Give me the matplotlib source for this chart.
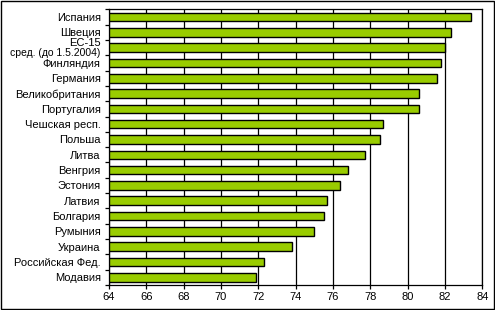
import matplotlib
matplotlib.use('Agg')
import matplotlib.pyplot as plt
import matplotlib.transforms as mtransforms
import numpy as np

matplotlib.rcParams.update({'font.family': 'Liberation Sans', 'font.size': 8})

countries = ['Испания', 'Швеция', 'ЕС-15', 'Финляндия', 'Германия', 'Великобритания',
             'Португалия', 'Чешская респ.', 'Польша', 'Литва', 'Венгрия', 'Эстония',
             'Латвия', 'Болгария', 'Румыния', 'Украина', 'Российская Фед.', 'Модавия']
values = [83.4, 82.3, 82.0, 81.8, 81.6, 80.6, 80.6, 78.7, 78.5, 77.7, 76.8, 76.4,
          75.7, 75.5, 75.0, 73.8, 72.3, 71.9]
xticks = [64, 66, 68, 70, 72, 74, 76, 78, 80, 82, 84]

fig = plt.figure(figsize=(4.95, 3.10), dpi=100)
ax = fig.add_axes([0.2202, 0.0806, 0.7541, 0.8894])

y = np.arange(len(countries))
ax.barh(y, [v - 64 for v in values], left=64, height=0.56,
        color='#99CC00', edgecolor='black', linewidth=1, zorder=3)

ax.set_xlim(64, 84)
ax.set_ylim(len(countries) - 0.5, -0.5)
ax.set_xticks(xticks)
ax.set_xticklabels([str(t) for t in xticks])
ax.xaxis.grid(True, color='black', linewidth=0.9, zorder=0)
ax.set_axisbelow(True)

labels = list(countries)
labels[2] = ''
ax.set_yticks(y)
ax.set_yticklabels(labels)
ax.tick_params(axis='y', length=0, pad=6)
ax.set_yticks(np.arange(-0.5, len(countries), 1), minor=True)
ax.tick_params(axis='y', which='minor', length=3, width=0.9, direction='out')
ax.tick_params(axis='x', length=3, width=0.9, direction='out', pad=2)

trans = mtransforms.blended_transform_factory(ax.transAxes, ax.transData)
ax.text(-0.022, 2 - 0.28, 'ЕС-15', transform=trans, ha='right', va='center', fontsize=8)
ax.text(-0.022, 2 + 0.37, 'сред. (до 1.5.2004)', transform=trans, ha='right', va='center',
        fontsize=7.5)

for s in ax.spines.values():
    s.set_linewidth(0.9)
    s.set_color('black')

# outer border
fig.patches.append(plt.Rectangle((0.002, 0.003), 0.995, 0.994, transform=fig.transFigure,
                                 fill=False, edgecolor='black', linewidth=1))

fig.savefig('out.png', dpi=100)
